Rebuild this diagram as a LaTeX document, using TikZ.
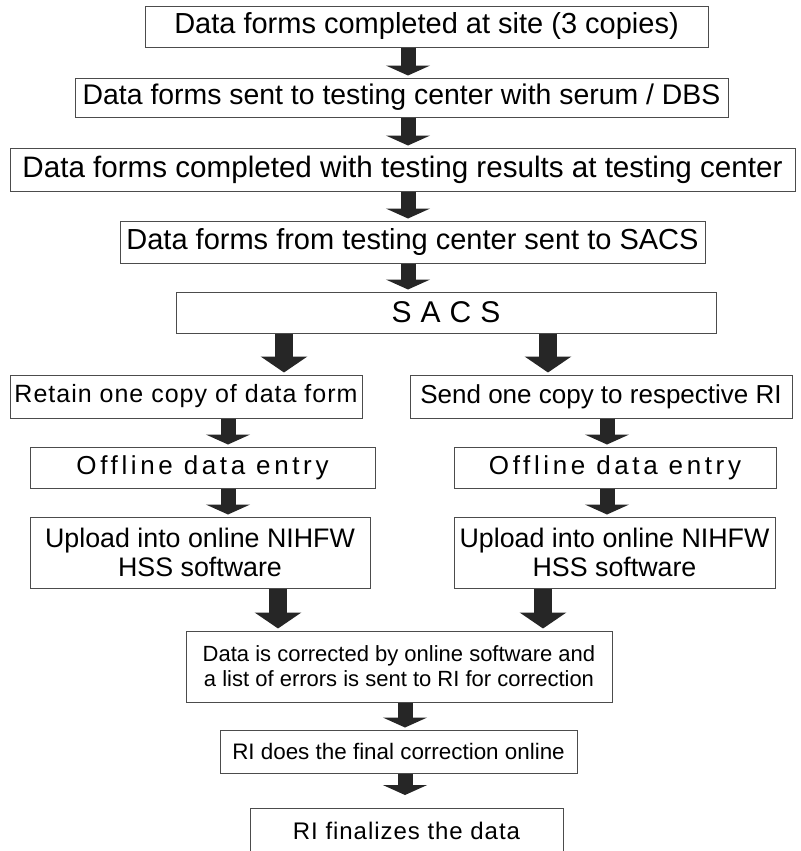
\documentclass[tikz,border=0pt]{standalone}
\usepackage{fontspec}
\setmainfont{Liberation Sans}
\usetikzlibrary{arrows.meta}

\begin{document}
\begin{tikzpicture}[x=0.5pt,y=-0.5pt,
	stepbox/.style={draw=black!70,line width=0.5pt,inner sep=0pt,align=center},
	smallarr/.style={line width=7.5pt,black!85,shorten >=1pt,-{Triangle[width=22pt,length=5pt]}},
	bigarr/.style={line width=9pt,black!85,shorten >=1pt,-{Triangle[width=23pt,length=8pt]}}]
	% frame of the page
	\useasboundingbox (0,0) rectangle (801,851);
	% main chain
	\node[stepbox,minimum width=281.5pt,minimum height=20.5pt,font=\fontsize{14.5}{17}\selectfont] (site) at (426.5,26.5) {Data forms completed at site (3 copies)};
	\node[stepbox,minimum width=326.5pt,minimum height=19.5pt,font=\fontsize{14.2}{17}\selectfont] (sent) at (401.5,97.5) {Data forms sent to testing center with serum / DBS};
	\node[stepbox,minimum width=392.5pt,minimum height=21.5pt,font=\fontsize{14.8}{17}\selectfont] (results) at (402.5,169.5) {Data forms completed with testing results at testing center};
	\node[stepbox,minimum width=292.5pt,minimum height=21pt,font=\fontsize{14.5}{17}\selectfont] (tosacs) at (412.5,242) {Data forms from testing center sent to SACS};
	\node[stepbox,minimum width=270pt,minimum height=20.5pt,font=\fontsize{15}{17}\selectfont\addfontfeature{LetterSpace=30}] (sacs) at (446,312.5) {SACS};
	% the two columns
	\node[stepbox,minimum width=176pt,minimum height=21.5pt,font=\fontsize{12.5}{15}\selectfont\addfontfeature{LetterSpace=4}] (retain) at (186,396.5) {Retain one copy of data form};
	\node[stepbox,minimum width=191pt,minimum height=21.5pt,font=\fontsize{13}{15}\selectfont] (send) at (601,396.5) {Send one copy to respective RI};
	\node[stepbox,minimum width=172.5pt,minimum height=20.5pt,font=\fontsize{13}{15}\selectfont\addfontfeature{LetterSpace=14}] (offl) at (202.5,467.5) {Offline data entry};
	\node[stepbox,minimum width=161pt,minimum height=20.5pt,font=\fontsize{13}{15}\selectfont\addfontfeature{LetterSpace=14}] (offr) at (615,467.5) {Offline data entry};
	\node[stepbox,minimum width=170pt,minimum height=35.5pt,font=\fontsize{13.4}{14.5}\selectfont] (upl) at (200,552.5) {Upload into online NIHFW\\HSS software};
	\node[stepbox,minimum width=160.5pt,minimum height=35.5pt,font=\fontsize{13.4}{14.5}\selectfont] (upr) at (614.5,552.5) {Upload into online NIHFW\\HSS software};
	% bottom chain
	\node[stepbox,minimum width=213pt,minimum height=35.5pt,font=\fontsize{11}{12.5}\selectfont] (corr) at (399,666.5) {Data is corrected by online software and\\a list of errors is sent to RI for correction};
	\node[stepbox,minimum width=178.5pt,minimum height=21.5pt,font=\fontsize{11.2}{13}\selectfont] (final) at (398.5,751.5) {RI does the final correction online};
	\node[stepbox,minimum width=156.5pt,minimum height=23pt,font=\fontsize{12}{14}\selectfont\addfontfeature{LetterSpace=4}] (done) at (406.5,831) {RI finalizes the data};
	% columns for the arrows
	\coordinate (m) at (408,0);
	\coordinate (a) at (284,0);
	\coordinate (b) at (548,0);
	\coordinate (c) at (228,0);
	\coordinate (d) at (607,0);
	\coordinate (e) at (278,0);
	\coordinate (f) at (543,0);
	\coordinate (g) at (405,0);
	\coordinate (tip) at (0,797);
	% arrows
	\draw[smallarr] (site.south -| m) -- (sent.north -| m);
	\draw[smallarr] (sent.south -| m) -- (results.north -| m);
	\draw[smallarr] (results.south -| m) -- (tosacs.north -| m);
	\draw[smallarr] (tosacs.south -| m) -- (sacs.north -| m);
	\draw[bigarr] (sacs.south -| a) -- (retain.north -| a);
	\draw[bigarr] (sacs.south -| b) -- (send.north -| b);
	\draw[smallarr] (retain.south -| c) -- (offl.north -| c);
	\draw[smallarr] (offl.south -| c) -- (upl.north -| c);
	\draw[smallarr] (send.south -| d) -- (offr.north -| d);
	\draw[smallarr] (offr.south -| d) -- (upr.north -| d);
	\draw[bigarr] (upl.south -| e) -- (corr.north -| e);
	\draw[bigarr] (upr.south -| f) -- (corr.north -| f);
	\draw[smallarr] (corr.south -| g) -- (final.north -| g);
	\draw[smallarr] (final.south -| g) -- (tip -| g);
\end{tikzpicture}
\end{document}
